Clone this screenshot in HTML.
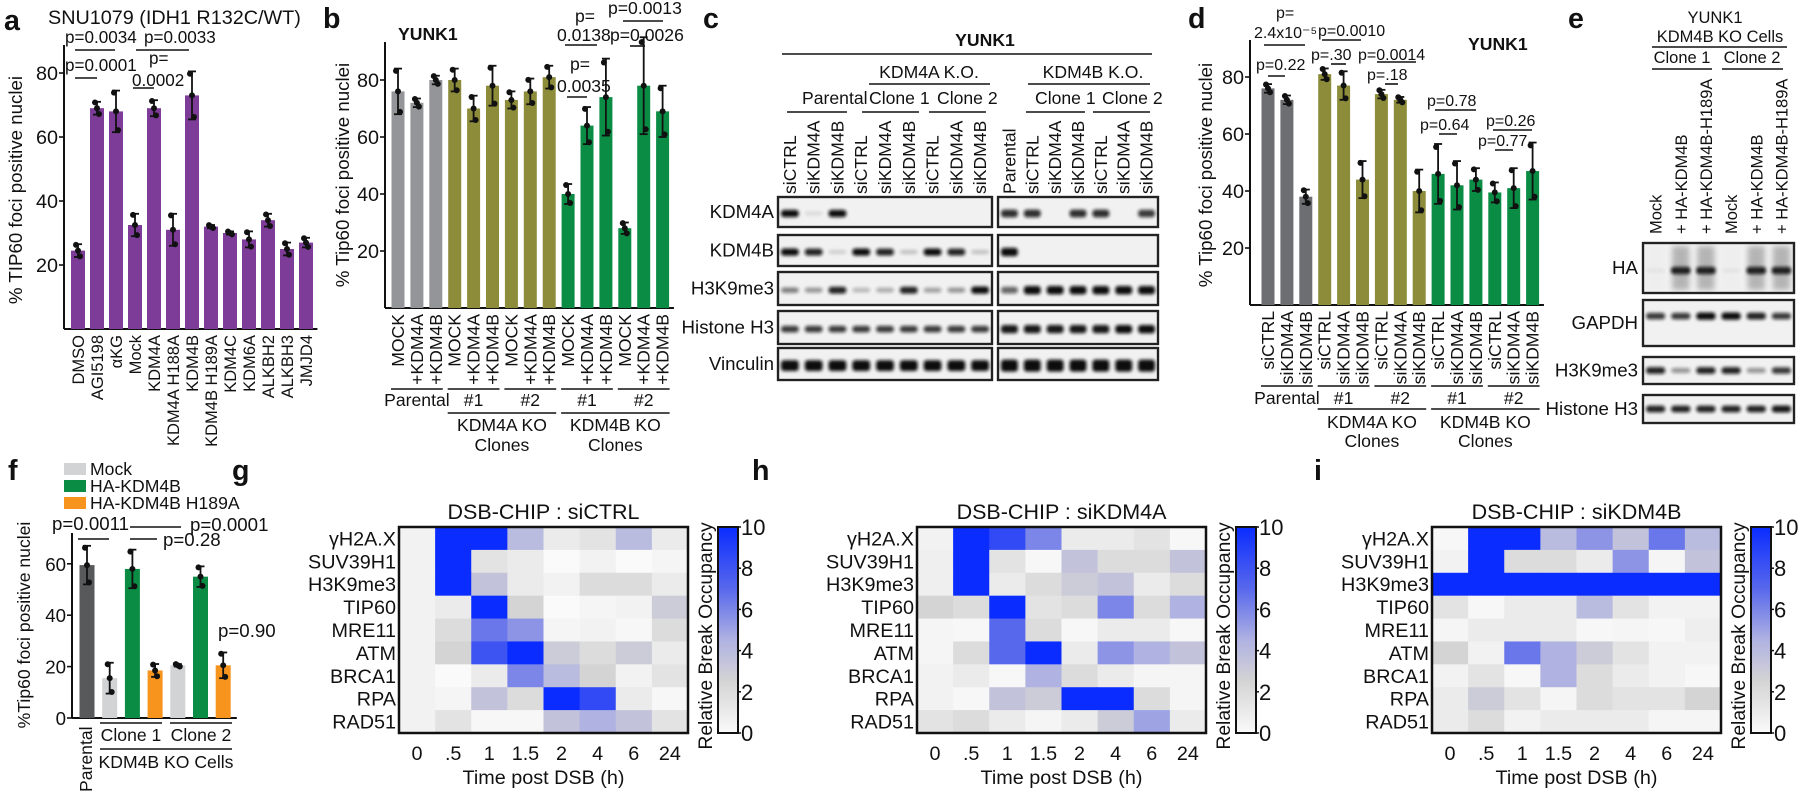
<!DOCTYPE html>
<html><head><meta charset="utf-8">
<style>
html,body{margin:0;padding:0;background:#fff;}
svg{display:block;font-family:"Liberation Sans",Arial,sans-serif;}
</style></head>
<body>
<svg id="fig" width="1800" height="792" viewBox="0 0 1800 792" xmlns="http://www.w3.org/2000/svg">
<defs>
<filter id="blur" x="-30%" y="-100%" width="160%" height="300%"><feGaussianBlur stdDeviation="1.6"/></filter>
<filter id="blur2" x="-30%" y="-100%" width="160%" height="300%"><feGaussianBlur stdDeviation="3"/></filter>
</defs>
</svg>
<script>
// ---------- data ----------
const aCats = ["DMSO","AGI5198","αKG","Mock","KDM4A","KDM4A H188A","KDM4B","KDM4B H189A","KDM4C","KDM6A","ALKBH2","ALKBH3","JMJD4"];
const aVals = [24.5,69,68,32.5,69,31,73,32,30,28,34,25,27];
const aErrs = [2,2,6.5,3.5,2.5,5,7.5,0.5,0.5,2.5,2,2,1.5];
const aTicks = [20,40,60,80];

const bCats = ["MOCK","+KDM4A","+KDM4B","MOCK","+KDM4A","+KDM4B","MOCK","+KDM4A","+KDM4B","MOCK","+KDM4A","+KDM4B","MOCK","+KDM4A","+KDM4B"];
const bVals = [76,72,80,80,70,78,73,76,81,40,64,74,28,78,69];
const bErrs = [8,1.5,1.5,4,4.5,7,3,4.5,4,3.5,6.5,13.5,2,17,9];
const bTicks = [20,40,60,80];

const dCats = ["siCTRL","siKDM4A","siKDM4B","siCTRL","siKDM4A","siKDM4B","siCTRL","siKDM4A","siKDM4B","siCTRL","siKDM4A","siKDM4B","siCTRL","siKDM4A","siKDM4B"];
const dVals = [76,72,38,81,77,44,74,72,40,46,42,44,39.5,41,47];
const dErrs = [1.5,1.5,2.5,2,5,6.5,1.5,1,7.5,10.5,8.5,4,3.5,7,10];
const dTicks = [20,40,60,80];

const fVals = [59.5,15.5,58,18.5,20.5,55,20.5];
const fErrs = [7.5,6,7.5,2.5,0.5,4,5];
const fTicks = [0,20,40,60];
const fSeries = ["Mock","HA-KDM4B","HA-KDM4B H189A"];

const hmRows = ["γH2A.X","SUV39H1","H3K9me3","TIP60","MRE11","ATM","BRCA1","RPA","RAD51"];
const hmCols = ["0",".5","1","1.5","2","4","6","24"];
const gData = [
 [0.5,10,10,4,1,1.5,4,1],
 [0.5,10,1.5,1,0,0.5,0,0.3],
 [0.5,10,3.5,1,0.5,2,2,1],
 [0.5,1,10,2.5,0,0.3,0.5,3],
 [0.5,2,6.5,5.5,0.3,0.5,0.2,2],
 [0.5,2.5,8,10,3,2,3,1],
 [0.5,0,1,6,4,2.5,0.5,1.5],
 [0.5,0.3,3.5,2,10,8.5,1,0.2],
 [0.5,1.5,0.2,0.2,3.5,4.5,3.5,1.5]];
const hData = [
 [0.5,10,8.5,6,1,1,1.5,0.2],
 [0.7,10,1.5,0.2,3.5,2,2,3.5],
 [0.7,10,1,2,3,3.5,1,2],
 [2.5,2,10,1.5,2,6,2,4.5],
 [0.3,0.2,7,2,0.2,1,1,0.2],
 [0.3,2,7,10,1,5.5,4.5,3.5],
 [0.5,1,0.2,4.5,2,1,0.3,0.3],
 [0.5,0.2,3.5,3,10,10,2,0.3],
 [1.5,2,1,0.3,1,3,5,1]];
const iData = [
 [0.2,10,10,4,5.5,3.5,6.5,4],
 [0.5,10,2,2,1,5.5,0.3,3.5],
 [10,10,10,10,10,10,10,10],
 [1.5,0.2,1,1,4,1.5,0.5,0.5],
 [0.3,1,1,1,0.2,0.3,0.2,0.8],
 [2.5,0.5,6.5,4.5,3,1.5,0.5,0.5],
 [0.5,1.5,0.2,4.5,2,1,0.5,0.2],
 [1,3,1.5,0.3,2,1.5,1.5,2.5],
 [1,2,0.5,1,1,1,0.3,0.3]];
const cbTicks = [0,2,4,6,8,10];

// ---------- helpers ----------
const NS = "http://www.w3.org/2000/svg";
const svg = document.getElementById("fig");
const FS = 1.1;
function mk(tag, attrs, parent){
  const e = document.createElementNS(NS, tag);
  for (const k in attrs) e.setAttribute(k, attrs[k]);
  (parent || svg).appendChild(e);
  return e;
}
function nm(el, name){
  
  
  return el;
}
function T(x, y, s, o){
  o = o || {};
  const a = {x: x, y: y, "font-size": ((o.size || 16) * FS).toFixed(1), fill: o.fill || "#111"};
  if (o.anchor) a["text-anchor"] = o.anchor;
  if (o.bold) a["font-weight"] = "bold";
  if (o.rot) a.transform = "rotate(" + o.rot + " " + x + " " + y + ")";
  const e = mk("text", a, o.parent);
  e.textContent = s;
  return e;
}
function L(x1, y1, x2, y2, w, p){
  return mk("line", {x1: x1, y1: y1, x2: x2, y2: y2, stroke: "#111", "stroke-width": w || 1.6}, p);
}

// ---------- bar chart ----------
function barChart(cfg){
  const g = mk("g", {});
  nm(g, cfg.name);
  const y = v => cfg.y0 - v * cfg.scale;
  const cx = i => cfg.x0 + i * cfg.step;
  const n = cfg.vals.length;
  const ax = L(cfg.axisX, cfg.top, cfg.axisX, cfg.y0, 2, g);
  nm(ax, "y-axis");
  const bx = L(cfg.axisX, cfg.y0, cx(n - 1) + cfg.step * 0.6, cfg.y0, 2, g);
  nm(bx, "x-axis");
  cfg.ticks.forEach(t => {
    const tk = L(cfg.axisX - 5, y(t), cfg.axisX, y(t), 1.6, g);
    nm(tk, "y-tick");
    const tl = T(cfg.axisX - 6, y(t) + 7, String(t), {size: cfg.tickSize || 18, anchor: "end", parent: g});
    nm(tl, "y-tick-label");
  });
  cfg.vals.forEach((v, i) => {
    const r = mk("rect", {x: cx(i) - cfg.bw / 2, y: y(v), width: cfg.bw, height: v * cfg.scale, fill: cfg.colors[i]}, g);
    nm(r, "bar-" + i);
    const e = cfg.errs[i];
    const el = L(cx(i), y(v + e), cx(i), y(v - e), 1.8, g);
    nm(el, "error-bar");
    const c1 = L(cx(i) - 4, y(v + e), cx(i) + 4, y(v + e), 1.8, g);
    nm(c1, "error-cap");
    const c2 = L(cx(i) - 4, y(v - e), cx(i) + 4, y(v - e), 1.8, g);
    nm(c2, "error-cap");
    [v + e * 0.9, v, v - e * 0.9].forEach((dv, k) => {
      const d = mk("circle", {cx: cx(i) + (k - 1) * 2, cy: y(dv), r: 3, fill: "#111"}, g);
      nm(d, "data-point");
    });
    if (cfg.cats) {
      const lt = T(cx(i) + 6, cfg.y0 + 6, cfg.cats[i], {size: cfg.labSize || 16, anchor: "end", rot: -90, parent: g});
      nm(lt, "x-label");
    }
  });
  return {g: g, cx: cx, y: y};
}

// ---------- panel a ----------
const pa = barChart({name: "panel-a-chart", axisX: 64, y0: 329, scale: 3.2, top: 45, x0: 78, step: 19, bw: 14,
  vals: aVals, errs: aErrs, colors: aVals.map(() => "#7d3c98"), ticks: aTicks, cats: aCats, labSize: 15});
nm(T(4, 30, "a", {size: 26, bold: true}), "panel-label-a");
nm(T(48, 24, "SNU1079 (IDH1 R132C/WT)", {size: 18}), "panel-a-title");
nm(T(22, 190, "% TIP60 foci positive nuclei", {size: 17, anchor: "middle", rot: -90}), "y-axis-title");
nm(T(65, 43, "p=0.0034", {size: 15.5}), "p-value");
nm(L(75, 50, 115, 50), "sig-line");
nm(T(65, 71, "p=0.0001", {size: 15.5}), "p-value");
nm(L(75, 78, 97, 78), "sig-line");
nm(T(144, 43, "p=0.0033", {size: 15.5}), "p-value");
nm(L(136, 50, 189, 50), "sig-line");
nm(T(149, 64, "p=", {size: 15.5}), "p-value");
nm(T(132, 86, "0.0002", {size: 15.5}), "p-value");
nm(L(133, 88, 154, 88), "sig-line");

// ---------- panel b ----------
const bCol = ["#939598","#939598","#939598","#8c8c3a","#8c8c3a","#8c8c3a","#8c8c3a","#8c8c3a","#8c8c3a","#0b8c45","#0b8c45","#0b8c45","#0b8c45","#0b8c45","#0b8c45"];
const pb = barChart({name: "panel-b-chart", axisX: 385, y0: 308, scale: 2.85, top: 42, x0: 398, step: 18.9, bw: 13,
  vals: bVals, errs: bErrs, colors: bCol, ticks: bTicks, cats: bCats, labSize: 16});
nm(T(323, 28, "b", {size: 26, bold: true}), "panel-label-b");
nm(T(398, 40, "YUNK1", {size: 16, bold: true}), "panel-b-title");
nm(T(349, 175, "% Tip60  foci positive nuclei", {size: 17, anchor: "middle", rot: -90}), "y-axis-title");
function groupLines(ch, groups, y1, ty1, size){
  groups.forEach(gr => {
    const l = L(ch.cx(gr[0]) - 7, y1, ch.cx(gr[1]) + 7, y1, 1.6);
    nm(l, "group-line");
    nm(T((ch.cx(gr[0]) + ch.cx(gr[1])) / 2, ty1, gr[2], {size: size, anchor: "middle"}), "group-label");
  });
}
groupLines(pb, [[0,2,"Parental"],[3,5,"#1"],[6,8,"#2"],[9,11,"#1"],[12,14,"#2"]], 389, 406, 16);
nm(L(pb.cx(3) - 7, 413, pb.cx(8) + 7, 413), "group-line");
nm(L(pb.cx(9) - 7, 413, pb.cx(14) + 7, 413), "group-line");
nm(T((pb.cx(3) + pb.cx(8)) / 2, 431, "KDM4A KO", {size: 16, anchor: "middle"}), "group-label");
nm(T((pb.cx(3) + pb.cx(8)) / 2, 451, "Clones", {size: 16, anchor: "middle"}), "group-label");
nm(T((pb.cx(9) + pb.cx(14)) / 2, 431, "KDM4B KO", {size: 16, anchor: "middle"}), "group-label");
nm(T((pb.cx(9) + pb.cx(14)) / 2, 451, "Clones", {size: 16, anchor: "middle"}), "group-label");
nm(T(575, 22, "p=", {size: 16}), "p-value");
nm(T(557, 41, "0.0138", {size: 16}), "p-value");
nm(L(565, 45, 597, 45), "sig-line");
nm(T(570, 70, "p=", {size: 16}), "p-value");
nm(T(557, 92, "0.0035", {size: 16}), "p-value");
nm(L(567, 97, 587, 97), "sig-line");
nm(T(608, 14, "p=0.0013", {size: 16}), "p-value");
nm(L(623, 21, 663, 21), "sig-line");
nm(T(610, 41, "p=0.0026", {size: 16}), "p-value");
nm(L(630, 46, 645, 46), "sig-line");

// ---------- blots ----------
function blotBox(x, y, w, h, lanes, vals, opts){
  opts = opts || {};
  const g = mk("g", {});
  nm(g, opts.name || "blot");
  mk("rect", {x: x, y: y, width: w, height: h, fill: "#f1f1f1", stroke: "#222", "stroke-width": 2.2}, g);
  const lw = w / lanes;
  vals.forEach((v, i) => {
    if (v <= 0.02) return;
    const bh = (opts.bh || 6) * (0.6 + 0.6 * v);
    const by = y + h * (opts.pos || 0.55) - bh / 2;
    const b = mk("rect", {x: x + i * lw + 3, y: by, width: lw - 6, height: bh, rx: 3, fill: "#111", opacity: Math.min(1, v), filter: "url(#blur)"}, g);
    nm(b, "band");
    if (opts.smear) {
      const s = mk("rect", {x: x + i * lw + 4, y: y + 3, width: lw - 8, height: h - 6, fill: "#444", opacity: 0.35 * v, filter: "url(#blur2)"}, g);
      nm(s, "smear");
    }
  });
  mk("rect", {x: x, y: y, width: w, height: h, fill: "none", stroke: "#222", "stroke-width": 2.2}, g);
  return g;
}
nm(T(703, 28, "c", {size: 26, bold: true}), "panel-label-c");
nm(T(985, 46, "YUNK1", {size: 16, bold: true, anchor: "middle"}), "panel-c-title");
nm(L(782, 54, 1152, 54), "header-line");
nm(T(929, 78, "KDM4A K.O.", {size: 16, anchor: "middle"}), "header-label");
nm(L(869, 84, 990, 84), "header-line");
nm(T(1093, 78, "KDM4B K.O.", {size: 16, anchor: "middle"}), "header-label");
nm(L(1028, 84, 1150, 84), "header-line");
nm(T(802, 104, "Parental", {size: 16}), "header-label");
nm(T(869, 104, "Clone 1", {size: 16}), "header-label");
nm(T(937, 104, "Clone 2", {size: 16}), "header-label");
nm(T(1035, 104, "Clone 1", {size: 16}), "header-label");
nm(T(1102, 104, "Clone 2", {size: 16}), "header-label");
[[787,847],[862,919],[929,986],[1026,1085],[1093,1150]].forEach(p => nm(L(p[0], 112, p[1], 112), "header-line"));
const cLeftLanes = ["siCTRL","siKDM4A","siKDM4B","siCTRL","siKDM4A","siKDM4B","siCTRL","siKDM4A","siKDM4B"];
const cRightLanes = ["Parental","siCTRL","siKDM4A","siKDM4B","siCTRL","siKDM4A","siKDM4B"];
const cL0 = 778, cLW = 214, cR0 = 998, cRW = 160;
cLeftLanes.forEach((s, i) => nm(T(cL0 + (i + 0.5) * cLW / 9 + 6, 194, s, {size: 16, rot: -90}), "lane-label"));
cRightLanes.forEach((s, i) => nm(T(cR0 + (i + 0.5) * cRW / 7 + 6, 194, s, {size: 16, rot: -90}), "lane-label"));
const cRows = [
  ["KDM4A", 197, 30, [1,0.1,1,0,0,0,0,0,0], [0.85,0.85,0,0.85,0.85,0,0.8]],
  ["KDM4B", 235, 31, [1,0.9,0.15,1,0.9,0.2,1,0.9,0.2], [1,0,0,0,0,0,0]],
  ["H3K9me3", 272, 33, [0.5,0.4,0.9,0.25,0.3,0.9,0.35,0.4,1], [0.6,1,1,1,1,1,1]],
  ["Histone H3", 311, 33, [0.8,0.8,0.8,0.8,0.8,0.8,0.8,0.8,0.8], [0.95,0.95,0.95,0.95,0.95,1,1]],
  ["Vinculin", 348, 32, [1,1,1,1,1,1,1,1,1], [1,1,1,1,1,1,1]]];
cRows.forEach(r => {
  nm(T(774, r[1] + r[2] / 2 + 6, r[0], {size: 17, anchor: "end"}), "blot-row-label");
  blotBox(cL0, r[1], cLW, r[2], 9, r[3], {name: "blot-" + r[0].toLowerCase().replace(/ /g, "-") + "-left", bh: r[0] === "Vinculin" ? 9 : 6});
  blotBox(cR0, r[1], cRW, r[2], 7, r[4], {name: "blot-" + r[0].toLowerCase().replace(/ /g, "-") + "-right", bh: r[0] === "Vinculin" ? 10 : 7});
});

// ---------- panel d ----------
const dCol = ["#6d6e71","#6d6e71","#6d6e71","#8c8c3a","#8c8c3a","#8c8c3a","#8c8c3a","#8c8c3a","#8c8c3a","#0b8c45","#0b8c45","#0b8c45","#0b8c45","#0b8c45","#0b8c45"];
const pd = barChart({name: "panel-d-chart", axisX: 1250, y0: 305, scale: 2.85, top: 40, x0: 1268, step: 18.9, bw: 13,
  vals: dVals, errs: dErrs, colors: dCol, ticks: dTicks, cats: dCats, labSize: 16});
nm(T(1188, 28, "d", {size: 26, bold: true}), "panel-label-d");
nm(T(1468, 50, "YUNK1", {size: 16, bold: true}), "panel-d-title");
nm(T(1212, 175, "% Tip60  foci positive nuclei", {size: 17, anchor: "middle", rot: -90}), "y-axis-title");
groupLines(pd, [[0,2,"Parental"],[3,5,"#1"],[6,8,"#2"],[9,11,"#1"],[12,14,"#2"]], 386, 404, 16);
nm(L(pd.cx(3) - 7, 409, pd.cx(8) + 7, 409), "group-line");
nm(L(pd.cx(9) - 7, 409, pd.cx(14) + 7, 409), "group-line");
nm(T((pd.cx(3) + pd.cx(8)) / 2, 428, "KDM4A KO", {size: 16, anchor: "middle"}), "group-label");
nm(T((pd.cx(3) + pd.cx(8)) / 2, 447, "Clones", {size: 16, anchor: "middle"}), "group-label");
nm(T((pd.cx(9) + pd.cx(14)) / 2, 428, "KDM4B KO", {size: 16, anchor: "middle"}), "group-label");
nm(T((pd.cx(9) + pd.cx(14)) / 2, 447, "Clones", {size: 16, anchor: "middle"}), "group-label");
const dP = [[1276,18,"p="],[1254,38,"2.4x10⁻⁵"],[1256,70,"p=0.22"],[1318,36,"p=0.0010"],[1311,60,"p=.30"],[1358,60,"p=0.0014"],[1367,80,"p=.18"],[1427,106,"p=0.78"],[1420,130,"p=0.64"],[1486,126,"p=0.26"],[1478,146,"p=0.77"]];
dP.forEach(p => nm(T(p[0], p[1], p[2], {size: 14.5}), "p-value"));
[[1264,1305,45],[1268,1285,76],[1322,1361,40],[1331,1346,64],[1377,1416,62],[1385,1398,84],[1435,1476,110],[1439,1457,134],[1493,1532,130],[1495,1513,150]].forEach(l => nm(L(l[0], l[2], l[1], l[2]), "sig-line"));

// ---------- panel e ----------
nm(T(1568, 28, "e", {size: 26, bold: true}), "panel-label-e");
nm(T(1715, 23, "YUNK1", {size: 15, anchor: "middle"}), "panel-e-title");
nm(T(1720, 42, "KDM4B KO Cells", {size: 15, anchor: "middle"}), "header-label");
nm(L(1652, 47, 1787, 47), "header-line");
nm(T(1682, 63, "Clone 1", {size: 15, anchor: "middle"}), "header-label");
nm(T(1752, 63, "Clone 2", {size: 15, anchor: "middle"}), "header-label");
nm(L(1652, 69, 1712, 69), "header-line");
nm(L(1722, 69, 1783, 69), "header-line");
const eLanes = ["Mock","+ HA-KDM4B","+ HA-KDM4B-H189A","Mock","+ HA-KDM4B","+ HA-KDM4B-H189A"];
const e0 = 1643, eW = 151;
eLanes.forEach((s, i) => nm(T(e0 + (i + 0.5) * eW / 6 + 6, 234, s, {size: 15, rot: -90}), "lane-label"));
const eRows = [["HA", 243, 50, [0.05,1,1,0.05,1,1], true, 0.55],
  ["GAPDH", 300, 46, [0.8,0.8,1,1,0.9,0.8], false, 0.35],
  ["H3K9me3", 357, 27, [0.9,0.4,0.9,0.9,0.4,0.8], false, 0.5],
  ["Histone H3", 395, 28, [0.9,0.9,0.9,0.9,0.9,0.95], false, 0.5]];
eRows.forEach(r => {
  nm(T(1638, r[1] + r[2] / 2 + 6, r[0], {size: 17, anchor: "end"}), "blot-row-label");
  blotBox(e0, r[1], eW, r[2], 6, r[3], {name: "blot-e-" + r[0].toLowerCase().replace(/ /g, "-"), smear: r[4], pos: r[5], bh: 6});
});

// ---------- panel f ----------
const fCol = ["#58595b","#d1d3d4","#0b8c45","#f7941d","#d1d3d4","#0b8c45","#f7941d"];
const pf = barChart({name: "panel-f-chart", axisX: 72, y0: 718, scale: 2.57, top: 533, x0: 87, step: 22.7, bw: 15,
  vals: fVals, errs: fErrs, colors: fCol, ticks: fTicks, tickSize: 17});
nm(T(8, 480, "f", {size: 26, bold: true}), "panel-label-f");
const fLegCol = ["#d1d3d4","#0b8c45","#f7941d"];
fSeries.forEach((s, i) => {
  const sw = mk("rect", {x: 64, y: 463 + i * 17, width: 22, height: 12, fill: fLegCol[i]});
  nm(sw, "legend-swatch");
  nm(T(90, 475 + i * 17, s, {size: 16}), "legend-entry");
});
nm(T(30, 625, "%Tip60 foci positive nuclei", {size: 16, anchor: "middle", rot: -90}), "y-axis-title");
nm(T(92, 792, "Parental", {size: 16, rot: -90}), "x-label");
nm(L(100, 723, 162, 723), "group-line");
nm(L(170, 723, 232, 723), "group-line");
nm(T(131, 741, "Clone 1", {size: 16, anchor: "middle"}), "group-label");
nm(T(201, 741, "Clone 2", {size: 16, anchor: "middle"}), "group-label");
nm(L(100, 749, 232, 749), "group-line");
nm(T(166, 768, "KDM4B KO Cells", {size: 16, anchor: "middle"}), "group-label");
nm(T(52, 530, "p=0.0011", {size: 17}), "p-value");
nm(L(78, 539, 109, 539), "sig-line");
nm(L(130, 527, 181, 527), "sig-line");
nm(T(190, 531, "p=0.0001", {size: 17}), "p-value");
nm(L(130, 539, 157, 539), "sig-line");
nm(T(163, 546, "p=0.28", {size: 17}), "p-value");
nm(T(218, 637, "p=0.90", {size: 17}), "p-value");

// ---------- heatmaps ----------
const stops = [[0,[250,250,250]],[2.5,[212,212,212]],[4.5,[176,178,226]],[7,[88,104,236]],[10,[10,44,255]]];
function hmColor(v){
  v = Math.max(0, Math.min(10, v));
  for (let k = 1; k < stops.length; k++) {
    if (v <= stops[k][0]) {
      const t = (v - stops[k-1][0]) / (stops[k][0] - stops[k-1][0]);
      const c = stops[k-1][1].map((a, j) => Math.round(a + (stops[k][1][j] - a) * t));
      return "rgb(" + c.join(",") + ")";
    }
  }
  return "rgb(10,44,255)";
}
function heatmap(x0, data, title, label, lx, name){
  const W = 289, y0 = 527, H = 206;
  const cw = W / hmCols.length, ch = H / hmRows.length;
  const g = mk("g", {});
  nm(g, name);
  nm(T(lx, 480, label, {size: 26, bold: true}), "panel-label-" + label);
  nm(T(x0 + W / 2, 519, title, {size: 19.5, anchor: "middle", parent: g}), "heatmap-title");
  data.forEach((row, r) => row.forEach((v, c) => {
    const cell = mk("rect", {x: x0 + c * cw, y: y0 + r * ch, width: cw + 0.5, height: ch + 0.5, fill: hmColor(v)}, g);
    nm(cell, "heatmap-cell");
  }));
  const fr = mk("rect", {x: x0, y: y0, width: W, height: H, fill: "none", stroke: "#111", "stroke-width": 2.5}, g);
  nm(fr, "heatmap-frame");
  hmRows.forEach((s, r) => nm(T(x0 - 3, y0 + (r + 0.5) * ch + 7, s, {size: 18, anchor: "end", parent: g}), "row-label"));
  hmCols.forEach((s, c) => nm(T(x0 + (c + 0.5) * cw, 760, s, {size: 18, anchor: "middle", parent: g}), "x-tick-label"));
  nm(T(x0 + W / 2, 784, "Time post DSB (h)", {size: 18, anchor: "middle", parent: g}), "x-axis-title");
  const cbx = x0 + 319, cbw = 20;
  const grad = mk("linearGradient", {id: "cb" + label, x1: 0, y1: 1, x2: 0, y2: 0}, svg.querySelector("defs"));
  stops.forEach(s => mk("stop", {offset: s[0] / 10, "stop-color": "rgb(" + s[1].join(",") + ")"}, grad));
  const cb = mk("rect", {x: cbx, y: y0, width: cbw, height: H, fill: "url(#cb" + label + ")", stroke: "#111", "stroke-width": 2}, g);
  nm(cb, "colorbar");
  cbTicks.forEach(t => {
    const ty = y0 + H - t / 10 * H;
    nm(L(cbx + cbw, ty, cbx + cbw + 3, ty, 1.5, g), "colorbar-tick");
    nm(T(cbx + cbw + 3, ty + 8, String(t), {size: 20, parent: g}), "colorbar-label");
  });
  nm(T(cbx - 6, y0 + H / 2 + 6, "Relative Break Occupancy", {size: 17.5, anchor: "middle", rot: -90, parent: g}), "colorbar-title");
}
heatmap(399, gData, "DSB-CHIP : siCTRL", "g", 232, "heatmap-g");
heatmap(917, hData, "DSB-CHIP : siKDM4A", "h", 752, "heatmap-h");
heatmap(1432, iData, "DSB-CHIP : siKDM4B", "i", 1314, "heatmap-i");
</script>
</body></html>
